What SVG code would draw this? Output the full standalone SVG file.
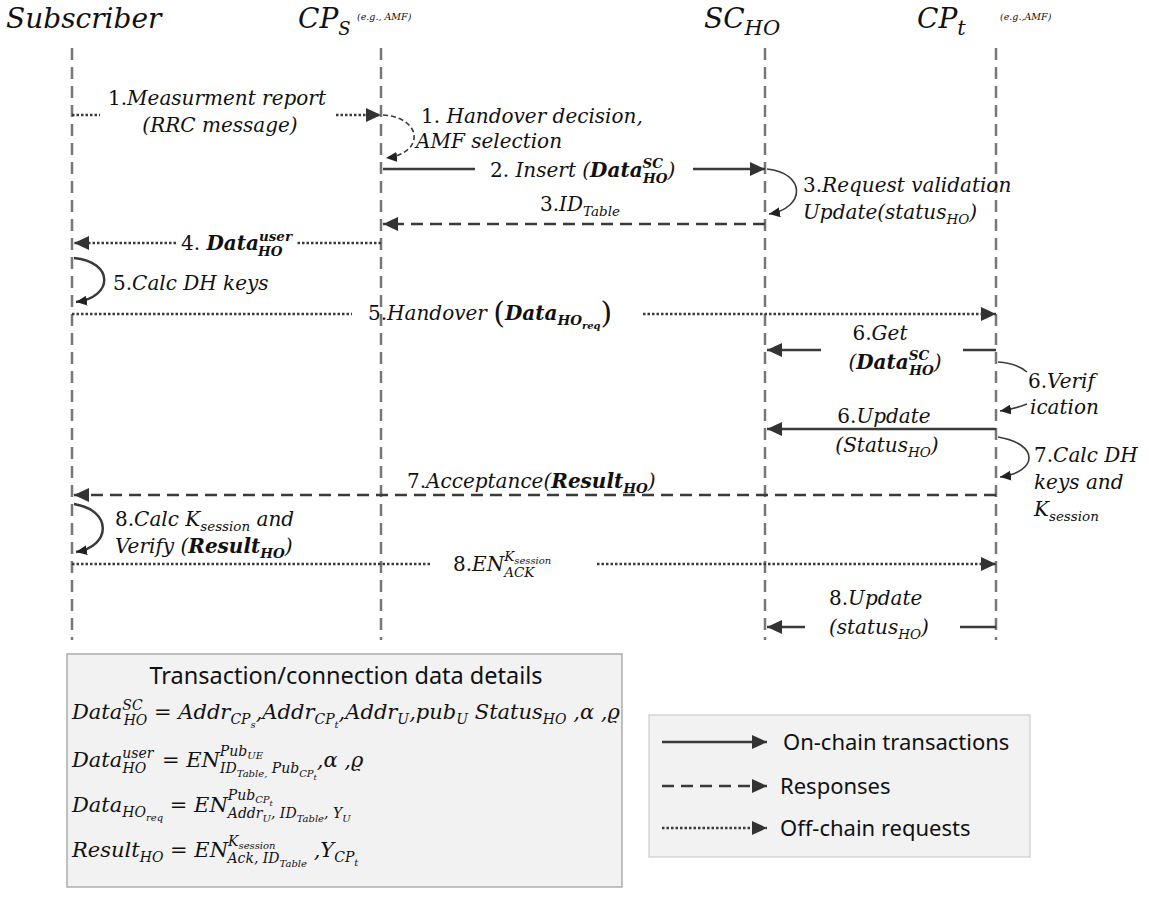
<svg xmlns="http://www.w3.org/2000/svg" width="1149" height="897" viewBox="0 0 1149 897">
<style>
.t{font-family:"DejaVu Serif","Liberation Serif",serif;font-style:italic;font-size:20px;fill:#111}
.n{font-style:normal}
.b{font-weight:bold}
.s{font-size:13.5px}
.ss{font-size:10px}
.hdr{font-size:28px}
.sm{font-size:9.5px}
.bx{font-size:21px}
.bs{font-size:14px}
.sans{font-family:"Noto Sans","Open Sans",sans-serif;font-style:normal;fill:#111}
.life{stroke:#777;stroke-width:2.5;stroke-dasharray:12 7;fill:none}
.ar{stroke:#3a3a3a;stroke-width:2.5;fill:none}
.thin{stroke:#3a3a3a;stroke-width:1.6;fill:none}
.dash{stroke-dasharray:12 7}
.dot{stroke-dasharray:2.5 2}
.sdash{stroke-dasharray:5 3}
</style>
<defs>
<marker id="ah" markerUnits="userSpaceOnUse" markerWidth="16" markerHeight="14" refX="15" refY="7" orient="auto"><path d="M0,0 L15,7 L0,14 z" fill="#333"/></marker>
<marker id="ahs" markerUnits="userSpaceOnUse" markerWidth="12" markerHeight="10" refX="11" refY="5" orient="auto"><path d="M0,0 L11,5 L0,10 z" fill="#222"/></marker>
</defs>
<rect width="1149" height="897" fill="#fff"/>

<g id="subscriber">
<text class="t hdr" x="6" y="28">Subscriber</text>
<line class="life" x1="72" y1="48" x2="72" y2="640"/>
</g>
<g id="cps">
<text class="t hdr" x="298" y="28">CP<tspan font-size="18px" baseline-shift="-7">S</tspan></text>
<text class="t sm" x="357" y="20">(e.g., AMF)</text>
<line class="life" x1="381" y1="48" x2="381" y2="640"/>
</g>
<g id="scho">
<text class="t hdr" x="704" y="28">SC<tspan font-size="21px" baseline-shift="-7">HO</tspan></text>
<line class="life" x1="765" y1="48" x2="765" y2="640"/>
</g>
<g id="cpt">
<text class="t hdr" x="917" y="28">CP<tspan font-size="21px" baseline-shift="-7">t</tspan></text>
<text class="t sm" x="1000" y="20">(e.g.,AMF)</text>
<line class="life" x1="996" y1="48" x2="996" y2="640"/>
</g>

<g id="connectors">
<path class="ar dot" d="M72,115 H100"/>
<path class="ar dot" d="M336,115 H381" marker-end="url(#ah)"/>
<path class="thin sdash" d="M383,115 C424,118 424,154 386,158" marker-end="url(#ahs)"/>
<path class="ar" d="M383,169 H475"/>
<path class="ar" d="M693,169 H765" marker-end="url(#ah)"/>
<path class="thin" d="M767,169 C806,173 806,208 769,214" marker-end="url(#ahs)"/>
<path class="ar dash" d="M765,224 H383" marker-end="url(#ah)"/>
<path class="ar dot" d="M381,243 H297"/>
<path class="ar dot" d="M176,243 H74" marker-end="url(#ah)"/>
<path class="ar" d="M74,258 C114,262 114,297 76,302" marker-end="url(#ahs)"/>
<path class="ar dot" d="M72,314 H352"/>
<path class="ar dot" d="M643,314 H996" marker-end="url(#ah)"/>
<path class="ar" d="M996,350 H963"/>
<path class="ar" d="M821,350 H767" marker-end="url(#ah)"/>
<path class="thin" d="M998,362 Q1016,363 1027,372"/>
<path class="thin" d="M1027,404 Q1014,409 1000,411" marker-end="url(#ahs)"/>
<path class="ar" d="M996,429 H767" marker-end="url(#ah)"/>
<path class="thin" d="M998,437 C1040,444 1038,472 1000,477" marker-end="url(#ahs)"/>
<path class="ar dash" d="M996,495 H74" marker-end="url(#ah)"/>
<path class="ar" d="M74,504 C112,510 112,546 76,552" marker-end="url(#ahs)"/>
<path class="ar dot" d="M72,564 H432"/>
<path class="ar dot" d="M597,564 H996" marker-end="url(#ah)"/>
<path class="ar" d="M996,627 H960"/>
<path class="ar" d="M805,627 H767" marker-end="url(#ah)"/>
</g>

<g id="labels">
<text class="t" x="108" y="105"><tspan class="n">1.</tspan>Measurment report</text>
<text class="t" x="220" y="132" text-anchor="middle">(RRC message)</text>
<text class="t" x="421" y="123"><tspan class="n">1.</tspan> Handover decision,</text>
<text class="t" x="416" y="148">AMF selection</text>
<text class="t" x="490" y="177"><tspan class="n">2.</tspan> Insert (<tspan class="b">Data</tspan><tspan class="s b" baseline-shift="9">SC</tspan><tspan class="s b" dx="-20" baseline-shift="-6">HO</tspan>)</text>
<text class="t" x="803" y="192"><tspan class="n">3.</tspan>Request validation</text>
<text class="t" x="803" y="219">Update(status<tspan class="s" baseline-shift="-5">HO</tspan>)</text>
<text class="t" x="540" y="211"><tspan class="n">3.</tspan>ID<tspan class="s" baseline-shift="-5">Table</tspan></text>
<text class="t" x="181" y="250"><tspan class="n">4.</tspan> <tspan class="b">Data</tspan><tspan class="s b" baseline-shift="9">user</tspan><tspan class="s b" dx="-34" baseline-shift="-6">HO</tspan></text>
<text class="t" x="113" y="290"><tspan class="n">5.</tspan>Calc DH keys</text>
<text class="t" x="368" y="320"><tspan class="n">5.</tspan>Handover <tspan font-size="30px" font-style="normal" font-weight="200" dy="3">(</tspan><tspan class="b" dy="-3">Data</tspan><tspan class="s b" baseline-shift="-5">HO</tspan><tspan class="ss b" baseline-shift="-9">req</tspan><tspan font-size="30px" font-style="normal" font-weight="200" dy="3">)</tspan></text>
<text class="t" x="880" y="340" text-anchor="middle"><tspan class="n">6.</tspan>Get</text>
<text class="t" x="895" y="369" text-anchor="middle">(<tspan class="b">Data</tspan><tspan class="s b" baseline-shift="9">SC</tspan><tspan class="s b" dx="-20" baseline-shift="-6">HO</tspan>)</text>
<text class="t" x="1028" y="388"><tspan class="n">6.</tspan>Verif</text>
<text class="t" x="1030" y="414">ication</text>
<text class="t" x="884" y="423" text-anchor="middle"><tspan class="n">6.</tspan>Update</text>
<text class="t" x="887" y="452" text-anchor="middle">(Status<tspan class="s" baseline-shift="-5">HO</tspan>)</text>
<text class="t" x="1034" y="462"><tspan class="n">7.</tspan>Calc DH</text>
<text class="t" x="1034" y="489">keys and</text>
<text class="t" x="1034" y="516">K<tspan class="s" baseline-shift="-5">session</tspan></text>
<text class="t" x="407" y="488"><tspan class="n">7.</tspan>Acceptance(<tspan class="b">Result</tspan><tspan class="s b" baseline-shift="-5">HO</tspan>)</text>
<text class="t" x="115" y="526"><tspan class="n">8.</tspan>Calc K<tspan class="s" baseline-shift="-5">session</tspan> and</text>
<text class="t" x="115" y="553">Verify (<tspan class="b">Result</tspan><tspan class="s b" baseline-shift="-5">HO</tspan>)</text>
<text class="t" x="453" y="571"><tspan class="n">8.</tspan>EN<tspan class="s" baseline-shift="10">K</tspan><tspan class="ss" baseline-shift="7">session</tspan><tspan class="s" dx="-47" baseline-shift="-6">ACK</tspan></text>
<text class="t" x="829" y="605"><tspan class="n">8.</tspan>Update</text>
<text class="t" x="829" y="634">(status<tspan class="s" baseline-shift="-5">HO</tspan>)</text>
</g>

<g id="details">
<rect x="67" y="654" width="555" height="233" fill="#f2f2f2" stroke="#999" stroke-width="1.2"/>
<text class="sans" x="346" y="684" font-size="23.5" text-anchor="middle">Transaction/connection data details</text>
<text class="t bx" x="72" y="719">Data<tspan class="bs" baseline-shift="9">SC</tspan><tspan class="bs" dx="-19" baseline-shift="-6">HO</tspan> =  Addr<tspan class="bs" baseline-shift="-5">CP</tspan><tspan class="ss" baseline-shift="-9">s</tspan>,Addr<tspan class="bs" baseline-shift="-5">CP</tspan><tspan class="ss" baseline-shift="-9">t</tspan>,Addr<tspan class="bs" baseline-shift="-5">U</tspan>,pub<tspan class="bs" baseline-shift="-5">U</tspan>  Status<tspan class="bs" baseline-shift="-5">HO</tspan> ,α ,ϱ</text>
<text class="t bx" x="72" y="767">Data<tspan class="bs" baseline-shift="9">user</tspan><tspan class="bs" dx="-31" baseline-shift="-6">HO</tspan><tspan dx="9"> = EN</tspan><tspan class="bs" baseline-shift="11">Pub</tspan><tspan class="ss" baseline-shift="8">UE</tspan><tspan class="bs" dx="-43" baseline-shift="-6">ID</tspan><tspan class="ss" baseline-shift="-10">Table,</tspan><tspan class="bs" baseline-shift="-6"> Pub</tspan><tspan class="ss" baseline-shift="-10">CP</tspan><tspan font-size="8px" baseline-shift="-13">t</tspan>,α ,ϱ</text>
<text class="t bx" x="72" y="812">Data<tspan class="bs" baseline-shift="-5">HO</tspan><tspan class="ss" baseline-shift="-9">req</tspan> = EN<tspan class="bs" baseline-shift="12">Pub</tspan><tspan class="ss" baseline-shift="9">CP</tspan><tspan font-size="8px" baseline-shift="6">t</tspan><tspan class="bs" dx="-45" baseline-shift="-6">Addr</tspan><tspan class="ss" baseline-shift="-10">U</tspan><tspan class="bs" baseline-shift="-6">, ID</tspan><tspan class="ss" baseline-shift="-10">Table</tspan><tspan class="bs" baseline-shift="-6">, Y</tspan><tspan class="ss" baseline-shift="-10">U</tspan></text>
<text class="t bx" x="72" y="857">Result<tspan class="bs" baseline-shift="-5">HO</tspan> = EN<tspan class="bs" baseline-shift="11">K</tspan><tspan class="ss" baseline-shift="8">session</tspan><tspan class="bs" dx="-48" baseline-shift="-6">Ack, ID</tspan><tspan class="ss" baseline-shift="-10">Table</tspan> ,Y<tspan class="bs" baseline-shift="-5">CP</tspan><tspan class="ss" baseline-shift="-9">t</tspan></text>
</g>

<g id="legend">
<rect x="649" y="715" width="381" height="142" fill="#f2f2f2" stroke="#ccc" stroke-width="1.2"/>
<path class="ar" d="M662,742 H767" marker-end="url(#ah)"/>
<path class="ar dash" d="M662,786 H767" marker-end="url(#ah)"/>
<path class="ar dot" d="M662,828 H767" marker-end="url(#ah)"/>
<text class="sans" x="783" y="750" font-size="22">On-chain transactions</text>
<text class="sans" x="780" y="794" font-size="22">Responses</text>
<text class="sans" x="780" y="836" font-size="22">Off-chain requests</text>
</g>
</svg>
